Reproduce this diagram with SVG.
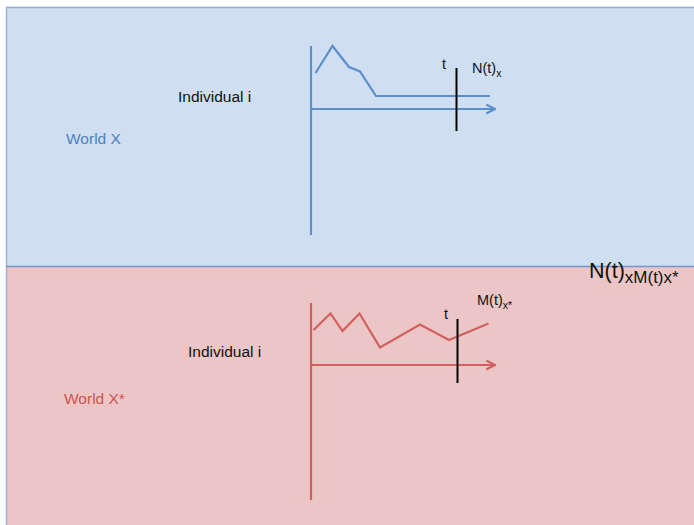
<svg xmlns="http://www.w3.org/2000/svg" width="694" height="525" viewBox="0 0 694 525">
  <defs>
    <style>
      text { font-family: "Liberation Sans", "Open Sans", sans-serif; fill: #111; }
      .lbl { font-size: 15.5px; }
      .axis-x { stroke: #5b8fc9; stroke-width: 2.2; fill: none; }
      .axis-r { stroke: #d2605e; stroke-width: 2.2; fill: none; }
      .tick { stroke: #000; stroke-width: 2; }
    </style>
    <marker id="arrowBlue" viewBox="0 0 10 10" refX="8" refY="5" markerWidth="5" markerHeight="5" orient="auto" markerUnits="strokeWidth">
      <path d="M1,1 L9,5 L1,9" fill="none" stroke="#5b8fc9" stroke-width="2"/>
    </marker>
    <marker id="arrowRed" viewBox="0 0 10 10" refX="8" refY="5" markerWidth="5" markerHeight="5" orient="auto" markerUnits="strokeWidth">
      <path d="M1,1 L9,5 L1,9" fill="none" stroke="#d2605e" stroke-width="2"/>
    </marker>
  </defs>

  <rect width="694" height="525" fill="#ffffff"/>

  <!-- World X panel -->
  <g id="worldX">
    <rect x="6" y="7" width="690" height="260" fill="#cfdff1"/>
    <line x1="6" y1="7.5" x2="694" y2="7.5" stroke="#8eaad3" stroke-width="1.5"/>
    <text x="66" y="144" class="lbl" style="fill:#4f81bd">World X</text>
    <text x="178" y="102" class="lbl">Individual i</text>
  </g>

  <!-- World X* panel -->
  <g id="worldXstar">
    <rect x="6" y="267" width="690" height="258" fill="#ecc6c6"/>
    <text x="64" y="404" class="lbl" style="fill:#c85652">World X*</text>
    <text x="188" y="357" class="lbl">Individual i</text>
  </g>

  <!-- panel borders -->
  <line x1="6.5" y1="7" x2="6.5" y2="525" stroke="#9fb2d6" stroke-width="1.5"/>
  <line x1="6" y1="266.5" x2="694" y2="266.5" stroke="#6f98cb" stroke-width="1.5"/>

  <!-- chart in World X -->
  <g id="chartX">
    <line x1="311" y1="46" x2="311" y2="235" class="axis-x"/>
    <line x1="311" y1="109" x2="494" y2="109" class="axis-x" marker-end="url(#arrowBlue)"/>
    <polyline points="315.5,73 332.5,46 349,67 360,71.5 376,96 490,96" class="axis-x"/>
    <line x1="456.5" y1="68" x2="456.5" y2="131" class="tick"/>
    <text x="442" y="69" style="font-size:14.5px">t</text>
    <text x="472" y="73" style="font-size:14.5px">N(t)<tspan dy="4" style="font-size:10.5px">x</tspan></text>
  </g>

  <!-- chart in World X* -->
  <g id="chartXstar">
    <line x1="311" y1="303" x2="311" y2="500" class="axis-r"/>
    <line x1="311" y1="365" x2="494" y2="365" class="axis-r" marker-end="url(#arrowRed)"/>
    <polyline points="313.5,330 330.5,313.5 342.5,331 359.5,313.5 380,347.5 420,324.5 449,340 488.5,323.5" class="axis-r"/>
    <line x1="457.5" y1="319" x2="457.5" y2="383" class="tick"/>
    <text x="444" y="319" style="font-size:14.5px">t</text>
    <text x="477" y="305" style="font-size:14.5px">M(t)<tspan dy="4" style="font-size:10.5px">x*</tspan></text>
  </g>

  <!-- combined label on the boundary -->
  <g id="combined">
    <text x="589" y="278" style="font-size:21.5px">N(t)<tspan dy="5" style="font-size:17px">xM(t)x*</tspan></text>
  </g>
</svg>
